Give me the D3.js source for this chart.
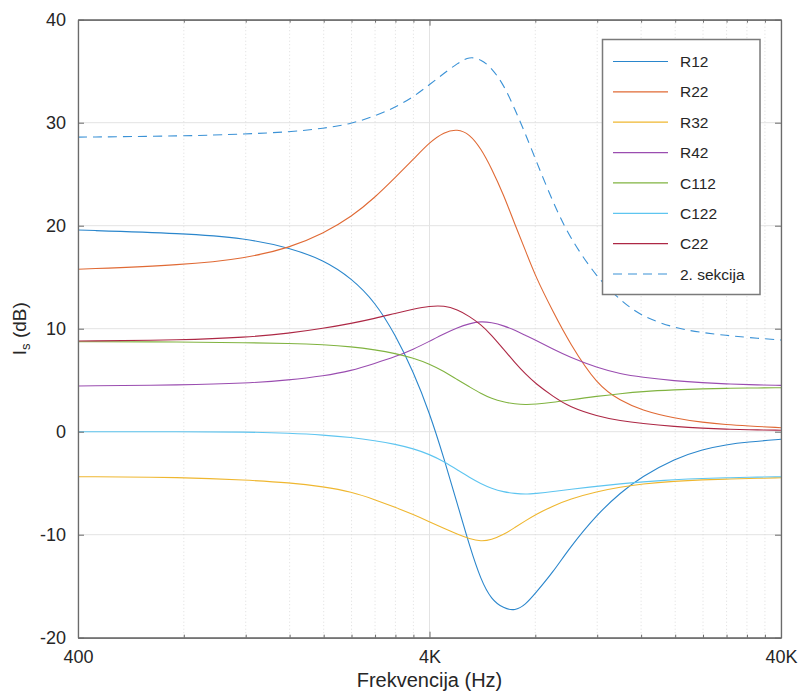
<!DOCTYPE html>
<html>
<head>
<meta charset="utf-8">
<script src="https://cdn.jsdelivr.net/npm/d3@7"></script>
<style>
  html, body { margin: 0; padding: 0; background: #fff; }
  svg { display: block; font-family: "Liberation Sans", Arial, Helvetica, sans-serif; }
</style>
</head>
<body>
<svg id="chart" width="801" height="691"></svg>
<script>
// ---- data ----
const freqs = [400,800,1200,1600,2000,2400,2800,3200,3600,4000,4400,4800,5200,5600,6000,6500,7000,7500,8000,9000,10000,12000,14000,16000,20000,24000,28000,32000,40000];
const R12   = [19.58,19.26,18.78,17.86,16.67,14.9,12.6,9.4,5.8,1.85,-2.6,-7.0,-11.1,-14.4,-16.3,-17.15,-17.4,-16.8,-15.7,-13.6,-11.3,-8.0,-5.9,-4.4,-2.6,-1.7,-1.25,-1.0,-0.74];
const R22   = [15.77,16.18,16.83,17.86,19.26,20.87,22.75,24.7,26.45,28.1,29.1,29.4,28.9,27.5,25.6,23.0,20.1,17.6,15.1,11.6,8.65,4.5,3.0,2.1,1.28,0.9,0.68,0.56,0.39];
const R32   = [-4.37,-4.43,-4.69,-4.95,-5.34,-5.83,-6.6,-7.35,-8.05,-8.75,-9.4,-9.95,-10.4,-10.65,-10.5,-10.0,-9.3,-8.65,-8.05,-7.2,-6.55,-5.8,-5.38,-5.08,-4.8,-4.67,-4.6,-4.55,-4.47];
const R42   = [4.44,4.53,4.7,5.02,5.41,5.92,6.64,7.28,8.0,8.78,9.5,10.1,10.5,10.72,10.6,10.3,9.85,9.35,8.9,8.0,7.25,6.2,5.6,5.3,4.93,4.75,4.64,4.57,4.5];
const C112  = [8.74,8.71,8.64,8.58,8.45,8.25,7.95,7.6,7.15,6.57,5.85,5.05,4.35,3.7,3.22,2.87,2.7,2.62,2.66,2.85,3.08,3.45,3.7,3.9,4.07,4.16,4.21,4.24,4.27];
const C122  = [0,0,-0.02,-0.15,-0.32,-0.55,-0.87,-1.22,-1.65,-2.2,-2.9,-3.7,-4.45,-5.05,-5.5,-5.85,-6.0,-6.08,-6.0,-5.82,-5.6,-5.3,-5.05,-4.88,-4.65,-4.53,-4.47,-4.43,-4.37];
const C22   = [8.8,8.9,9.16,9.55,10.04,10.52,11.0,11.5,11.9,12.2,12.25,11.85,11.2,10.4,9.4,8.0,6.7,5.6,4.7,3.4,2.4,1.5,1.05,0.8,0.5,0.33,0.24,0.19,0.14];
const sekcija2 = [28.6,28.7,28.9,29.1,29.45,29.9,30.65,31.5,32.5,33.7,34.8,35.75,36.45,36.15,35.35,33.7,31.3,28.9,26.5,22.2,18.9,14.9,12.75,11.2,10.05,9.6,9.35,9.15,8.9];

const seriesNames  = ["R12","R22","R32","R42","C112","C122","C22","2. sekcija"];
const seriesValues = [R12, R22, R32, R42, C112, C122, C22, sekcija2];
const seriesColors = ["#2a86cc","#e06a35","#efb730","#9a4db0","#80b340","#5ec5f0","#ad2845","#3b92d6"];
const seriesDashed = [false,false,false,false,false,false,false,true];

const xMajorTicks  = [400, 4000, 40000];
const xMajorLabels = ["400", "4K", "40K"];
const xMinorTicks  = [800,1200,1600,2000,2400,2800,3200,3600,8000,12000,16000,20000,24000,28000,32000,36000];
const yTicks       = [-20,-10,0,10,20,30,40];
const xTitle = "Frekvencija (Hz)";

// ---- layout ----
const L = 78, R = 781, T = 19.7, B = 637.7;
const svg = d3.select("#chart");
const x = d3.scaleLog().domain([400, 40000]).range([L, R]);
const y = d3.scaleLinear().domain([-20, 40]).range([B, T]);

// grid
const grid = svg.append("g");
grid.selectAll(".hmaj").data(yTicks).join("line")
  .attr("x1", L).attr("x2", R).attr("y1", d => y(d)).attr("y2", d => y(d))
  .attr("stroke", "#e3e3e3").attr("stroke-width", 1);
grid.selectAll(".vmin").data(xMinorTicks).join("line")
  .attr("y1", T).attr("y2", B).attr("x1", d => x(d)).attr("x2", d => x(d))
  .attr("stroke", "#d6d6d6").attr("stroke-width", 0.8).attr("stroke-dasharray", "1,2.5");
grid.selectAll(".vmaj").data(xMajorTicks).join("line")
  .attr("y1", T).attr("y2", B).attr("x1", d => x(d)).attr("x2", d => x(d))
  .attr("stroke", "#e3e3e3").attr("stroke-width", 1);

// lines
const line = d3.line().x(d => x(d[0])).y(d => y(d[1])).curve(d3.curveBasis);
const plot = svg.append("g");
seriesValues.forEach((vals, i) => {
  plot.append("path")
    .datum(freqs.map((f, k) => [f, vals[k]]))
    .attr("fill", "none")
    .attr("stroke", seriesColors[i])
    .attr("stroke-width", 1.1)
    .attr("stroke-dasharray", seriesDashed[i] ? "9,6" : null)
    .attr("d", line);
});

// axes
const axColor = "#6b6b6b";
const fmtX = d => xMajorLabels[xMajorTicks.indexOf(d)] || "";
const gB = svg.append("g").attr("transform", `translate(0,${B})`)
  .call(d3.axisBottom(x).tickValues(xMajorTicks).tickFormat(fmtX).tickSizeInner(-6).tickSizeOuter(0).tickPadding(13));
const gBm = svg.append("g").attr("transform", `translate(0,${B})`)
  .call(d3.axisBottom(x).tickValues(xMinorTicks).tickFormat("").tickSizeInner(-3).tickSizeOuter(0));
const gT = svg.append("g").attr("transform", `translate(0,${T})`)
  .call(d3.axisTop(x).tickValues(xMajorTicks).tickFormat("").tickSizeInner(-6).tickSizeOuter(0));
const gTm = svg.append("g").attr("transform", `translate(0,${T})`)
  .call(d3.axisTop(x).tickValues(xMinorTicks).tickFormat("").tickSizeInner(-3).tickSizeOuter(0));
const gL = svg.append("g").attr("transform", `translate(${L},0)`)
  .call(d3.axisLeft(y).tickValues(yTicks).tickFormat(d => String(d)).tickSizeInner(-6).tickSizeOuter(0).tickPadding(12));
const gR = svg.append("g").attr("transform", `translate(${R},0)`)
  .call(d3.axisRight(y).tickValues(yTicks).tickFormat("").tickSizeInner(-6).tickSizeOuter(0));
[gB, gBm, gT, gTm, gL, gR].forEach(g => {
  g.select(".domain").attr("stroke", axColor).attr("stroke-width", 1.3);
  g.selectAll(".tick line").attr("stroke", axColor);
  g.selectAll(".tick text").attr("fill", "#262626").attr("font-size", 18)
    .attr("font-family", "'Liberation Sans', Arial, sans-serif");
});

// axis titles
svg.append("text").attr("x", (L + R) / 2).attr("y", 687).attr("text-anchor", "middle")
  .attr("font-size", 20).attr("fill", "#262626").text(xTitle);
const yl = svg.append("text").attr("transform", `translate(26,${(T + B) / 2}) rotate(-90)`)
  .attr("text-anchor", "middle").attr("font-size", 19).attr("fill", "#262626");
yl.append("tspan").text("I");
yl.append("tspan").attr("font-size", 13).attr("dy", 4).text("s");
yl.append("tspan").attr("dy", -4).text(" (dB)");

// legend
const lg = svg.append("g");
lg.append("rect").attr("x", 602.5).attr("y", 39.5).attr("width", 157.5).attr("height", 255)
  .attr("fill", "#fff").attr("stroke", "#7a7a7a").attr("stroke-width", 1.5);
const ly = d3.scalePoint().domain(seriesNames).range([61.5, 274]);
seriesNames.forEach((n, i) => {
  lg.append("line").attr("x1", 613).attr("x2", 668).attr("y1", ly(n)).attr("y2", ly(n))
    .attr("stroke", seriesColors[i]).attr("stroke-width", 1.2)
    .attr("stroke-dasharray", seriesDashed[i] ? "9,6" : null);
  lg.append("text").attr("x", 680).attr("y", ly(n)).attr("dy", "0.36em")
    .attr("font-size", 15.5).attr("fill", "#262626").text(n);
});
</script>
</body>
</html>
